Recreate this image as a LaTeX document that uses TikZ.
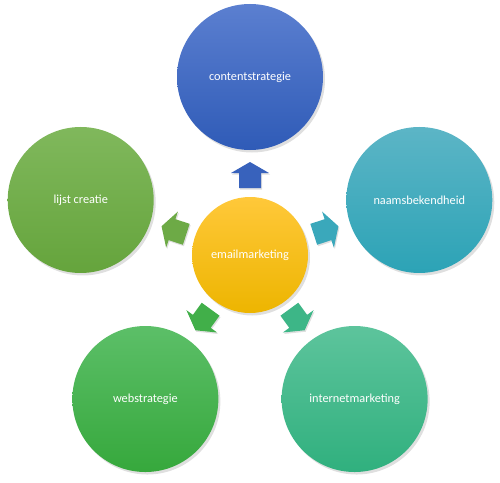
\documentclass[tikz,border=0pt]{standalone}
\usepackage{fontspec}
\setmainfont{Carlito}
\usetikzlibrary{shadows}

\definecolor{goldtop}{HTML}{FFC83A}
\definecolor{goldbot}{HTML}{EDB500}
\definecolor{bluetop}{HTML}{5B7FD0}
\definecolor{bluebot}{HTML}{2F5BB7}
\definecolor{tealtop}{HTML}{5CB5C6}
\definecolor{tealbot}{HTML}{2CA3B6}
\definecolor{leaftop}{HTML}{80B85C}
\definecolor{leafbot}{HTML}{65A43C}
\definecolor{grasstop}{HTML}{5CBF68}
\definecolor{grassbot}{HTML}{36A83C}
\definecolor{minttop}{HTML}{5DC49C}
\definecolor{mintbot}{HTML}{30B07E}

\begin{document}
\begin{tikzpicture}[
  bubble/.style={circle, minimum size=2.92cm, inner sep=0pt, text=white,
    font=\fontsize{7}{8.4}\selectfont,
    drop shadow={opacity=0.25, shadow xshift=0.04cm, shadow yshift=-0.05cm}},
  pointer/.style={drop shadow={opacity=0.25, shadow xshift=0.02cm, shadow yshift=-0.03cm}}]
\useasboundingbox (-5,-4.54) rectangle (5,5.1);

% the middle
\node [bubble, minimum size=2.32cm, top color=goldtop, bottom color=goldbot] (mail) at (0,0) {emailmarketing};

% the five around it
\node [bubble, top color=bluetop, bottom color=bluebot] (content) at (90:3.56) {contentstrategie};
\node [bubble, top color=tealtop, bottom color=tealbot] (naam) at (18:3.56) {naamsbekendheid};
\node [bubble, top color=minttop, bottom color=mintbot] (internet) at (-54:3.56) {internetmarketing};
\node [bubble, top color=grasstop, bottom color=grassbot] (web) at (-126:3.56) {webstrategie};
\node [bubble, top color=leaftop, bottom color=leafbot] (lijst) at (162:3.56) {lijst creatie};

% arrows out of the middle
\fill [pointer, fill=bluebot!80!bluetop, shift={(90:1.6)}, rotate=90]
  (-0.26,-0.22) -- (0.04,-0.22) -- (0.04,-0.38) -- (0.26,0) -- (0.04,0.38) -- (0.04,0.22) -- (-0.26,0.22) -- cycle;
\fill [pointer, fill=tealbot!70!tealtop, shift={(18:1.6)}, rotate=18]
  (-0.26,-0.22) -- (0.04,-0.22) -- (0.04,-0.38) -- (0.26,0) -- (0.04,0.38) -- (0.04,0.22) -- (-0.26,0.22) -- cycle;
\fill [pointer, fill=mintbot!70!minttop, shift={(-54:1.6)}, rotate=-54]
  (-0.26,-0.22) -- (0.04,-0.22) -- (0.04,-0.38) -- (0.26,0) -- (0.04,0.38) -- (0.04,0.22) -- (-0.26,0.22) -- cycle;
\fill [pointer, fill=grassbot!70!grasstop, shift={(-126:1.6)}, rotate=-126]
  (-0.26,-0.22) -- (0.04,-0.22) -- (0.04,-0.38) -- (0.26,0) -- (0.04,0.38) -- (0.04,0.22) -- (-0.26,0.22) -- cycle;
\fill [pointer, fill=leafbot!70!leaftop, shift={(162:1.6)}, rotate=162]
  (-0.26,-0.22) -- (0.04,-0.22) -- (0.04,-0.38) -- (0.26,0) -- (0.04,0.38) -- (0.04,0.22) -- (-0.26,0.22) -- cycle;
\end{tikzpicture}
\end{document}
